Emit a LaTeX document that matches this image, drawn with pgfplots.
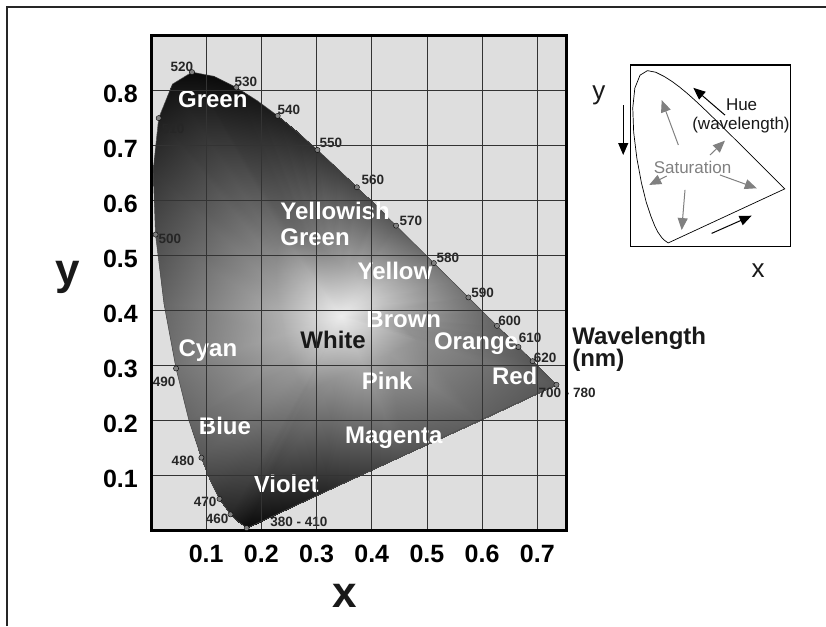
\documentclass[border=0pt]{standalone}
\usepackage{pgfplots}
\pgfplotsset{compat=1.18}
\usepackage{fontspec}
\setmainfont{Liberation Sans}
\usetikzlibrary{arrows.meta}
\newcommand\lab{\fontsize{24}{24}\selectfont\bfseries}
\newcommand\num{\fontsize{13.5}{13.5}\selectfont\bfseries}
\newcommand\ins{\fontsize{17}{17}\selectfont}
\begin{document}
\begin{tikzpicture}[x=1pt,y=1pt]
\path[use as bounding box] (0,0) rectangle (826,626);
\draw[line width=1.6pt, black!85] (7,0) -- (7,619) -- (826,619);

\begin{axis}[
  at={(151pt,95.3pt)}, anchor=south west,
  scale only axis, width=415pt, height=495pt,
  xmin=0, xmax=0.752, ymin=0, ymax=0.9,
  xtick={0.1,0.2,0.3,0.4,0.5,0.6,0.7},
  xticklabels={0.1,0.2,0.3,0.4,0.5,0.6,0.7},
  ytick={0.1,0.2,0.3,0.4,0.5,0.6,0.7,0.8},
  yticklabels={0.1,0.2,0.3,0.4,0.5,0.6,0.7,0.8},
  major tick length=0pt,
  grid=major,
  major grid style={line width=0.8pt, black!80},
  axis line style={line width=3pt, black},
  axis on top,
  axis background/.style={fill=black!13},
  clip=false,
  colormap={lin}{gray(0cm)=(0); gray(1cm)=(1)},
  point meta min=0, point meta max=1,
  /pgf/number format/assume math mode=true,
  tick label style={font=\fontsize{25}{25}\selectfont\bfseries, black, inner sep=0pt},
  xticklabel style={yshift=-14pt},
  yticklabel style={xshift=-13pt, yshift=-3pt},
]
% underlay (hides seams of the mesh)
\addplot[draw=none, inner color=black!35, outer color=black!75] coordinates {(0.1741,0.0050) (0.1566,0.0177) (0.1440,0.0297) (0.1241,0.0578) (0.1096,0.0868) (0.0913,0.1327) (0.0687,0.2007) (0.0454,0.2950) (0.0235,0.4127) (0.0082,0.5384) (0.0039,0.6548) (0.0139,0.7502) (0.0389,0.8120) (0.0743,0.8338) (0.1142,0.8262) (0.1547,0.8059) (0.1929,0.7816) (0.2296,0.7543) (0.2658,0.7243) (0.3016,0.6923) (0.3373,0.6589) (0.3731,0.6245) (0.4087,0.5896) (0.4441,0.5547) (0.4788,0.5202) (0.5125,0.4866) (0.5448,0.4544) (0.5752,0.4242) (0.6029,0.3965) (0.6270,0.3725) (0.6482,0.3514) (0.6658,0.3340) (0.6915,0.3083) (0.7079,0.2920) (0.7190,0.2809) (0.7260,0.2740) (0.7347,0.2653) (0.1741,0.0050)};
% shading mesh: vertex 0 = white point, 1-40 inner ring, 41-80 spectral locus
\addplot[patch, patch type=triangle, shader=interp, point meta=explicit, table/row sep=\\,
 patch table={
0 1 2\\ 0 2 3\\ 0 3 4\\ 0 4 5\\ 0 5 6\\ 0 6 7\\ 0 7 8\\ 0 8 9\\ 0 9 10\\ 0 10 11\\
0 11 12\\ 0 12 13\\ 0 13 14\\ 0 14 15\\ 0 15 16\\ 0 16 17\\ 0 17 18\\ 0 18 19\\ 0 19 20\\ 0 20 21\\
0 21 22\\ 0 22 23\\ 0 23 24\\ 0 24 25\\ 0 25 26\\ 0 26 27\\ 0 27 28\\ 0 28 29\\ 0 29 30\\ 0 30 31\\
0 31 32\\ 0 32 33\\ 0 33 34\\ 0 34 35\\ 0 35 36\\ 0 36 37\\ 0 37 38\\ 0 38 39\\ 0 39 40\\ 0 40 1\\
1 41 42\\ 1 42 2\\ 2 42 43\\ 2 43 3\\ 3 43 44\\ 3 44 4\\ 4 44 45\\ 4 45 5\\ 5 45 46\\ 5 46 6\\
6 46 47\\ 6 47 7\\ 7 47 48\\ 7 48 8\\ 8 48 49\\ 8 49 9\\ 9 49 50\\ 9 50 10\\ 10 50 51\\ 10 51 11\\
11 51 52\\ 11 52 12\\ 12 52 53\\ 12 53 13\\ 13 53 54\\ 13 54 14\\ 14 54 55\\ 14 55 15\\ 15 55 56\\ 15 56 16\\
16 56 57\\ 16 57 17\\ 17 57 58\\ 17 58 18\\ 18 58 59\\ 18 59 19\\ 19 59 60\\ 19 60 20\\ 20 60 61\\ 20 61 21\\
21 61 62\\ 21 62 22\\ 22 62 63\\ 22 63 23\\ 23 63 64\\ 23 64 24\\ 24 64 65\\ 24 65 25\\ 25 65 66\\ 25 66 26\\
26 66 67\\ 26 67 27\\ 27 67 68\\ 27 68 28\\ 28 68 69\\ 28 69 29\\ 29 69 70\\ 29 70 30\\ 30 70 71\\ 30 71 31\\
31 71 72\\ 31 72 32\\ 32 72 73\\ 32 73 33\\ 33 73 74\\ 33 74 34\\ 34 74 75\\ 34 75 35\\ 35 75 76\\ 35 76 36\\
36 76 77\\ 36 77 37\\ 37 77 78\\ 37 78 38\\ 38 78 79\\ 38 79 39\\ 39 79 80\\ 39 80 40\\ 40 80 41\\ 40 41 1\\
}] table[x=x, y=y, meta=c] {
x y c\\
0.345 0.390 0.93\\
0.2852 0.2553 0.52\\
0.2791 0.2597 0.52\\
0.2747 0.2639 0.54\\
0.2677 0.2737 0.56\\
0.2626 0.2839 0.58\\
0.2562 0.3000 0.60\\
0.2483 0.3238 0.64\\
0.2401 0.3568 0.68\\
0.2325 0.3980 0.68\\
0.2271 0.4419 0.62\\
0.2256 0.4827 0.56\\
0.2291 0.5161 0.50\\
0.2379 0.5377 0.46\\
0.2503 0.5453 0.42\\
0.2642 0.5427 0.42\\
0.2784 0.5356 0.44\\
0.2918 0.5271 0.47\\
0.3046 0.5175 0.50\\
0.3173 0.5070 0.54\\
0.3298 0.4958 0.58\\
0.3423 0.4841 0.62\\
0.3548 0.4721 0.67\\
0.3673 0.4599 0.72\\
0.3797 0.4477 0.76\\
0.3918 0.4356 0.79\\
0.4036 0.4238 0.79\\
0.4149 0.4125 0.77\\
0.4256 0.4020 0.72\\
0.4353 0.3923 0.67\\
0.4437 0.3839 0.63\\
0.4511 0.3765 0.60\\
0.4573 0.3704 0.58\\
0.4663 0.3614 0.57\\
0.4720 0.3557 0.56\\
0.4759 0.3518 0.56\\
0.4784 0.3494 0.56\\
0.4814 0.3464 0.56\\
0.4324 0.3236 0.62\\
0.3833 0.3008 0.66\\
0.3343 0.2780 0.58\\
0.1741 0.0050 0.04\\
0.1566 0.0177 0.10\\
0.1440 0.0297 0.15\\
0.1241 0.0578 0.20\\
0.1096 0.0868 0.26\\
0.0913 0.1327 0.34\\
0.0687 0.2007 0.40\\
0.0454 0.2950 0.45\\
0.0235 0.4127 0.40\\
0.0082 0.5384 0.30\\
0.0039 0.6548 0.20\\
0.0139 0.7502 0.12\\
0.0389 0.8120 0.07\\
0.0743 0.8338 0.04\\
0.1142 0.8262 0.04\\
0.1547 0.8059 0.06\\
0.1929 0.7816 0.09\\
0.2296 0.7543 0.12\\
0.2658 0.7243 0.15\\
0.3016 0.6923 0.20\\
0.3373 0.6589 0.24\\
0.3731 0.6245 0.28\\
0.4087 0.5896 0.32\\
0.4441 0.5547 0.36\\
0.4788 0.5202 0.41\\
0.5125 0.4866 0.46\\
0.5448 0.4544 0.47\\
0.5752 0.4242 0.45\\
0.6029 0.3965 0.42\\
0.6270 0.3725 0.39\\
0.6482 0.3514 0.37\\
0.6658 0.3340 0.36\\
0.6915 0.3083 0.34\\
0.7079 0.2920 0.34\\
0.7190 0.2809 0.34\\
0.7260 0.2740 0.34\\
0.7347 0.2653 0.34\\
0.5946 0.2002 0.38\\
0.4544 0.1352 0.32\\
0.3143 0.0701 0.15\\
};
\addplot[draw=black!70, line width=0.5pt] coordinates {(0.1741,0.0050) (0.1566,0.0177) (0.1440,0.0297) (0.1241,0.0578) (0.1096,0.0868) (0.0913,0.1327) (0.0687,0.2007) (0.0454,0.2950) (0.0235,0.4127) (0.0082,0.5384) (0.0039,0.6548) (0.0139,0.7502) (0.0389,0.8120) (0.0743,0.8338) (0.1142,0.8262) (0.1547,0.8059) (0.1929,0.7816) (0.2296,0.7543) (0.2658,0.7243) (0.3016,0.6923) (0.3373,0.6589) (0.3731,0.6245) (0.4087,0.5896) (0.4441,0.5547) (0.4788,0.5202) (0.5125,0.4866) (0.5448,0.4544) (0.5752,0.4242) (0.6029,0.3965) (0.6270,0.3725) (0.6482,0.3514) (0.6658,0.3340) (0.6915,0.3083) (0.7079,0.2920) (0.7190,0.2809) (0.7260,0.2740) (0.7347,0.2653) (0.1741,0.0050)};
\addplot[only marks, mark=*, mark size=2.6pt, mark options={draw=none, fill=black!50}] coordinates {(0.1733,0.0048) (0.1440,0.0297) (0.1241,0.0578) (0.0913,0.1327) (0.0454,0.2950) (0.0082,0.5384) (0.0139,0.7502) (0.0743,0.8338) (0.1547,0.8059) (0.2296,0.7543) (0.3016,0.6923) (0.3731,0.6245) (0.4441,0.5547) (0.5125,0.4866) (0.5752,0.4242) (0.6270,0.3725) (0.6658,0.3340) (0.6915,0.3083) (0.7347,0.2653)};

% wavelength numbers
\begin{scope}[every node/.style={font=\num, text=black!85, inner sep=0pt}]
\node at (axis cs:0.056,0.843) {520};
\node at (axis cs:0.172,0.816) {530};
\node at (axis cs:0.250,0.765) {540};
\node at (axis cs:0.326,0.705) {550};
\node at (axis cs:0.402,0.638) {560};
\node at (axis cs:0.471,0.563) {570};
\node at (axis cs:0.040,0.730) {510};
\node at (axis cs:0.034,0.530) {500};
\node at (axis cs:0.538,0.496) {580};
\node at (axis cs:0.601,0.432) {590};
\node at (axis cs:0.650,0.381) {600};
\node at (axis cs:0.687,0.350) {610};
\node at (axis cs:0.714,0.315) {620};
\node at (axis cs:0.754,0.250) {700 - 780};
\node at (axis cs:0.024,0.270) {490};
\node at (axis cs:0.058,0.127) {480};
\node at (axis cs:0.098,0.052) {470};
\node at (axis cs:0.120,0.021) {460};
\node at (axis cs:0.268,0.016) {380 - 410};
\end{scope}

% colour names
\begin{scope}[every node/.style={font=\lab, text=white, inner sep=0pt, anchor=base}]
\node at (axis cs:0.112,0.770) {Green};
\node[anchor=base west] at (axis cs:0.234,0.565) {Yellowish};
\node[anchor=base west] at (axis cs:0.234,0.519) {Green};
\node at (axis cs:0.442,0.456) {Yellow};
\node at (axis cs:0.458,0.370) {Brown};
\node[text=black!90] at (axis cs:0.330,0.332) {White};
\node at (axis cs:0.103,0.316) {Cyan};
\node at (axis cs:0.428,0.256) {Pink};
\node at (axis cs:0.134,0.175) {Blue};
\node at (axis cs:0.440,0.158) {Magenta};
\node at (axis cs:0.245,0.070) {Violet};
\node at (axis cs:0.589,0.329) {Orange};
\node at (axis cs:0.659,0.265) {Red};
\node[text=black!90, anchor=base west] at (axis cs:0.763,0.338) {Wavelength};
\node[text=black!90, anchor=base west] at (axis cs:0.763,0.298) {(nm)};
\end{scope}

\node[font=\fontsize{44}{44}\selectfont\bfseries, text=black!90, anchor=base, inner sep=0pt] at (axis cs:0.351,-0.1405) {x};
\node[font=\fontsize{44}{44}\selectfont\bfseries, text=black!90, anchor=base, inner sep=0pt] at (axis cs:-0.151,0.447) {y};
\end{axis}

% inset
\begin{axis}[
  at={(630.7pt,379.3pt)}, anchor=south west,
  scale only axis, width=160pt, height=181.7pt,
  xmin=-0.006, xmax=0.763, ymin=-0.013, ymax=0.861,
  xtick=\empty, ytick=\empty,
  axis line style={line width=1.5pt, black},
  clip=false,
]
\addplot[draw=black, line width=0.7pt] coordinates {(0.1741,0.0050) (0.1566,0.0177) (0.1440,0.0297) (0.1241,0.0578) (0.1096,0.0868) (0.0913,0.1327) (0.0687,0.2007) (0.0454,0.2950) (0.0235,0.4127) (0.0082,0.5384) (0.0039,0.6548) (0.0139,0.7502) (0.0389,0.8120) (0.0743,0.8338) (0.1142,0.8262) (0.1547,0.8059) (0.1929,0.7816) (0.2296,0.7543) (0.2658,0.7243) (0.3016,0.6923) (0.3373,0.6589) (0.3731,0.6245) (0.4087,0.5896) (0.4441,0.5547) (0.4788,0.5202) (0.5125,0.4866) (0.5448,0.4544) (0.5752,0.4242) (0.6029,0.3965) (0.6270,0.3725) (0.6482,0.3514) (0.6658,0.3340) (0.6915,0.3083) (0.7079,0.2920) (0.7190,0.2809) (0.7260,0.2740) (0.7347,0.2653) (0.1741,0.0050)};
\draw[black, line width=1pt, -{Triangle[length=12pt,width=10pt]}] (axis cs:-0.042,0.668) -- (axis cs:-0.042,0.428);
\draw[black, line width=1pt, -{Triangle[length=12pt,width=10pt]}] (axis cs:0.447,0.620) -- (axis cs:0.295,0.751);
\draw[black, line width=1pt, -{Triangle[length=12pt,width=10pt]}] (axis cs:0.383,0.051) -- (axis cs:0.575,0.136);
\begin{scope}[black!50, line width=1pt]
\draw[-{Triangle[length=12pt,width=10pt]}] (axis cs:0.223,0.476) -- (axis cs:0.143,0.692);
\draw[-{Triangle[length=12pt,width=10pt]}] (axis cs:0.375,0.428) -- (axis cs:0.447,0.497);
\draw[-{Triangle[length=12pt,width=10pt]}] (axis cs:0.167,0.327) -- (axis cs:0.083,0.284);
\draw[-{Triangle[length=12pt,width=10pt]}] (axis cs:0.255,0.260) -- (axis cs:0.239,0.067);
\draw[-{Triangle[length=12pt,width=10pt]}] (axis cs:0.423,0.332) -- (axis cs:0.600,0.268);
\end{scope}
\node[font=\ins, text=black!90] at (axis cs:0.527,0.668) {Hue};
\node[font=\ins, text=black!90] at (axis cs:0.524,0.570) {(wavelength)};
\node[font=\ins, text=black!50] at (axis cs:0.291,0.370) {Saturation};
\node[font=\fontsize{26}{26}\selectfont, text=black!90] at (axis cs:-0.159,0.714) {y};
\node[font=\fontsize{26}{26}\selectfont, text=black!90] at (axis cs:0.606,-0.127) {x};
\end{axis}
\end{tikzpicture}
\end{document}
